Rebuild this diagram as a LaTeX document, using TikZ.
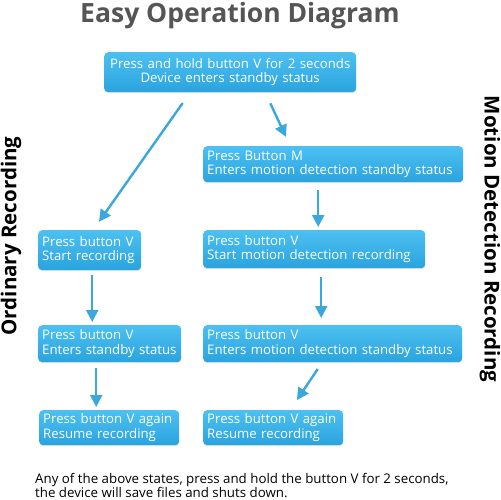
\documentclass[tikz,border=0pt]{standalone}
\usepackage{fontspec}
\setmainfont{Open Sans}
\usepackage{tikz}
\usetikzlibrary{arrows.meta,positioning,shadows}
\definecolor{boxtop}{HTML}{4CC0F1}
\definecolor{boxbottom}{HTML}{2AA3DE}
\definecolor{arrowblue}{HTML}{3AA8DC}
\definecolor{titlegray}{HTML}{555555}

\begin{document}
\begin{tikzpicture}[x=1pt,y=1pt,->,>={Triangle[width=12pt,length=12pt]},auto]
		\tikzstyle{stepbox}=[rectangle, rounded corners=4pt, top color=boxtop, bottom color=boxbottom, text=white, anchor=north west, align=left, inner xsep=4pt, inner ysep=0pt, font=\fontsize{13.2}{14.5}\selectfont, drop shadow={opacity=0.2, shadow xshift=0pt, shadow yshift=-1pt}]
		\tikzstyle{every edge}=[draw=arrowblue, line width=2.4pt]
		\tikzstyle{sidelabel}=[font=\fontsize{20.5}{24}\selectfont\bfseries, text=black]
		
		\useasboundingbox (0,0) rectangle (501,-500);
		
		\node[font=\fontsize{26.5}{30}\selectfont\bfseries, text=titlegray] (title) at (240,-16) {Easy Operation Diagram};
		
		\node[stepbox, align=center, text width=244pt, minimum height=40pt] (1) at (104,-52) {Press and hold button V for 2 seconds\\Device enters standby status};
		\node[stepbox, text width=252pt, minimum height=36pt] (2) at (203,-146) {Press Button M\\Enters motion detection standby status};
		\node[stepbox, text width=95pt, minimum height=40pt]  (3) at (38,-230)  {Press button V\\Start recording};
		\node[stepbox, text width=214pt, minimum height=38pt] (4) at (203,-230) {Press button V\\Start motion detection recording};
		\node[stepbox, text width=135pt, minimum height=37pt] (5) at (38,-325)  {Press button V\\Enters standby status};
		\node[stepbox, text width=251pt, minimum height=37pt] (6) at (203,-325) {Press button V\\Enters motion detection standby status};
		\node[stepbox, text width=132pt, minimum height=35pt] (7) at (39,-410)  {Press button V again\\Resume recording};
		\node[stepbox, text width=132pt, minimum height=35pt] (8) at (203,-410) {Press button V again\\Resume recording};
		
		\node[sidelabel, rotate=90]  (ordinary) at (11,-236)  {Ordinary Recording};
		\node[sidelabel, rotate=-90] (motion)   at (490,-239) {Motion Detection Recording};
		
		\node[anchor=north west, align=left, inner sep=0pt, font=\fontsize{13.3}{14}\selectfont] (note) at (35,-473) {Any of the above states, press and hold the button V for 2 seconds,\\the device will save files and shuts down.};
		
		\path ([xshift=-40pt]1.south) edge[shorten <=13pt, shorten >=10pt] ([xshift=3.5pt]3.north);
		\path ([xshift=35pt]1.south) edge[shorten <=12pt, shorten >=10pt] ([xshift=-43pt]2.north);
		\path ([xshift=-15pt]2.south) edge[shorten <=8pt, shorten >=3pt] ([xshift=-15pt]2.south |- 4.north);
		\path ([xshift=2.5pt]3.south) edge[shorten <=5pt, shorten >=3pt] ([xshift=2.5pt]3.south |- 5.north);
		\path ([xshift=7pt]4.south) edge[shorten <=9pt, shorten >=7pt] ([xshift=7pt]4.south |- 6.north);
		\path ([xshift=-13.5pt]5.south) edge[shorten <=6pt, shorten >=3pt] ([xshift=-13.5pt]5.south |- 7.north);
		\path ([xshift=-10.5pt]6.south) edge[shorten <=8pt, shorten >=12pt] ([xshift=17pt]8.north);
		\end{tikzpicture}
\end{document}
